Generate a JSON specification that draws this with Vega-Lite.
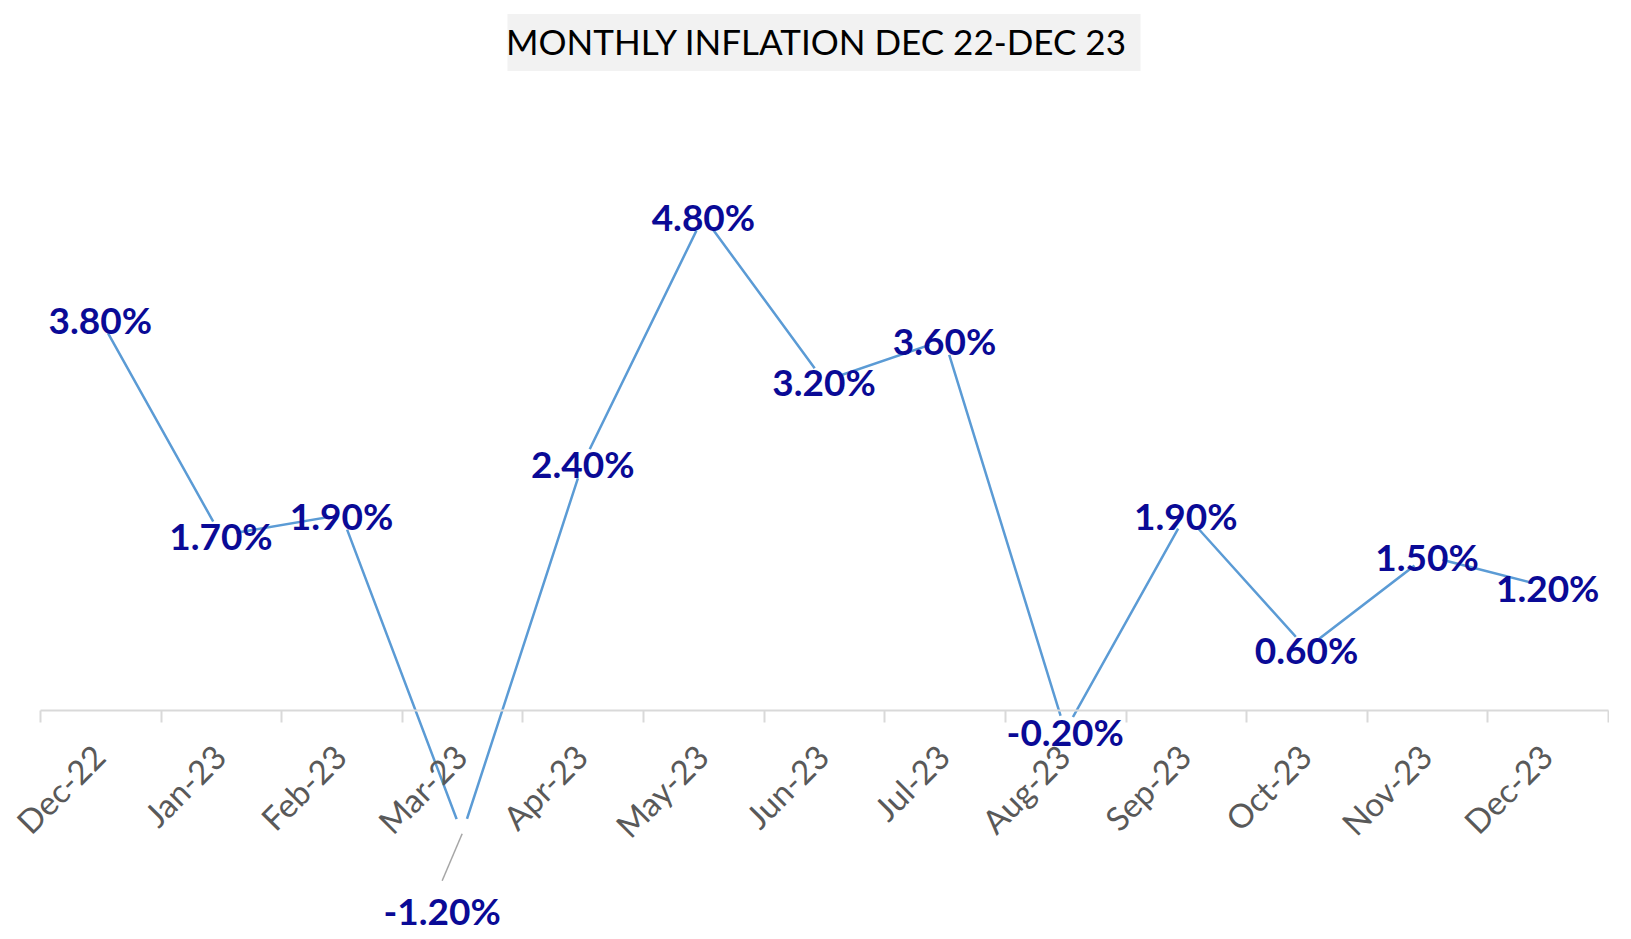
{
  "$schema": "https://vega.github.io/schema/vega-lite/v6.json",
  "padding": {"left": 12, "top": 14, "right": 0, "bottom": 0},
  "background": "white",
  "config": {
    "view": {"stroke": null},
    "locale": {"number": {"decimal": ".", "thousands": ",", "grouping": [3], "currency": ["$", ""], "minus": "-"}}
  },
  "bounds": "flush",
  "center": true,
  "spacing": 22,
  "vconcat": [
    {
      "width": 633,
      "height": 57,
      "view": {"fill": "#F2F2F2", "stroke": null},
      "data": {"values": [{"title": "MONTHLY INFLATION DEC 22-DEC 23"}]},
      "mark": {"type": "text", "font": "Lato", "fontSize": 35, "color": "#000000", "baseline": "middle", "align": "center", "dx": -8, "dy": 1},
      "encoding": {"text": {"field": "title", "type": "nominal"}}
    },
    {
      "width": 1568,
      "height": 823,
      "data": {
        "values": [
          {"month": "Dec-22", "value": 0.038},
          {"month": "Jan-23", "value": 0.017},
          {"month": "Feb-23", "value": 0.019},
          {"month": "Mar-23", "value": -0.012},
          {"month": "Apr-23", "value": 0.024},
          {"month": "May-23", "value": 0.048},
          {"month": "Jun-23", "value": 0.032},
          {"month": "Jul-23", "value": 0.036},
          {"month": "Aug-23", "value": -0.002},
          {"month": "Sep-23", "value": 0.019},
          {"month": "Oct-23", "value": 0.006},
          {"month": "Nov-23", "value": 0.015},
          {"month": "Dec-23", "value": 0.012}
        ]
      },
      "encoding": {
        "x": {
          "field": "month",
          "type": "nominal",
          "sort": null,
          "scale": {"type": "band", "paddingInner": 0, "paddingOuter": 0},
          "axis": {
            "title": null,
            "offset": -206,
            "zindex": 1,
            "domainColor": "#D9D9D9",
            "domainWidth": 2,
            "tickColor": "#D9D9D9",
            "tickWidth": 2,
            "tickSize": 12,
            "tickBand": "extent",
            "labelAngle": -45,
            "labelAlign": "right",
            "labelBaseline": "middle",
            "labelPadding": 30,
            "labelFont": "Lato",
            "labelFontSize": 33,
            "labelColor": "#595959",
            "labelOverlap": false,
            "labelBound": false
          }
        },
        "y": {
          "field": "value",
          "type": "quantitative",
          "scale": {"domain": [-0.02, 0.06], "nice": false, "zero": false},
          "axis": null
        }
      },
      "layer": [
        {"mark": {"type": "line", "color": "#5B9BD5", "strokeWidth": 2.5}},
        {"mark": {"type": "point", "filled": true, "color": "#FFFFFF", "opacity": 1, "size": 1000, "strokeWidth": 0}},
        {
          "transform": [{"filter": "datum.month === 'Mar-23'"}],
          "mark": {"type": "rule", "color": "#A6A6A6", "strokeWidth": 1.5, "x2Offset": -20, "y2Offset": 47},
          "encoding": {"x2": {"field": "month"}, "y2": {"field": "value"}}
        },
        {
          "transform": [{"filter": "datum.month !== 'Mar-23'"}],
          "mark": {"type": "text", "font": "Lato", "fontSize": 37, "fontWeight": "bold", "color": "#0A0A96", "baseline": "middle", "align": "center", "dy": 4},
          "encoding": {"text": {"field": "value", "type": "quantitative", "format": ".2%"}}
        },
        {
          "transform": [{"filter": "datum.month === 'Mar-23'"}],
          "mark": {"type": "text", "font": "Lato", "fontSize": 37, "fontWeight": "bold", "color": "#0A0A96", "baseline": "middle", "align": "center", "dx": -20, "dy": 80},
          "encoding": {"text": {"field": "value", "type": "quantitative", "format": ".2%"}}
        }
      ]
    }
  ]
}
